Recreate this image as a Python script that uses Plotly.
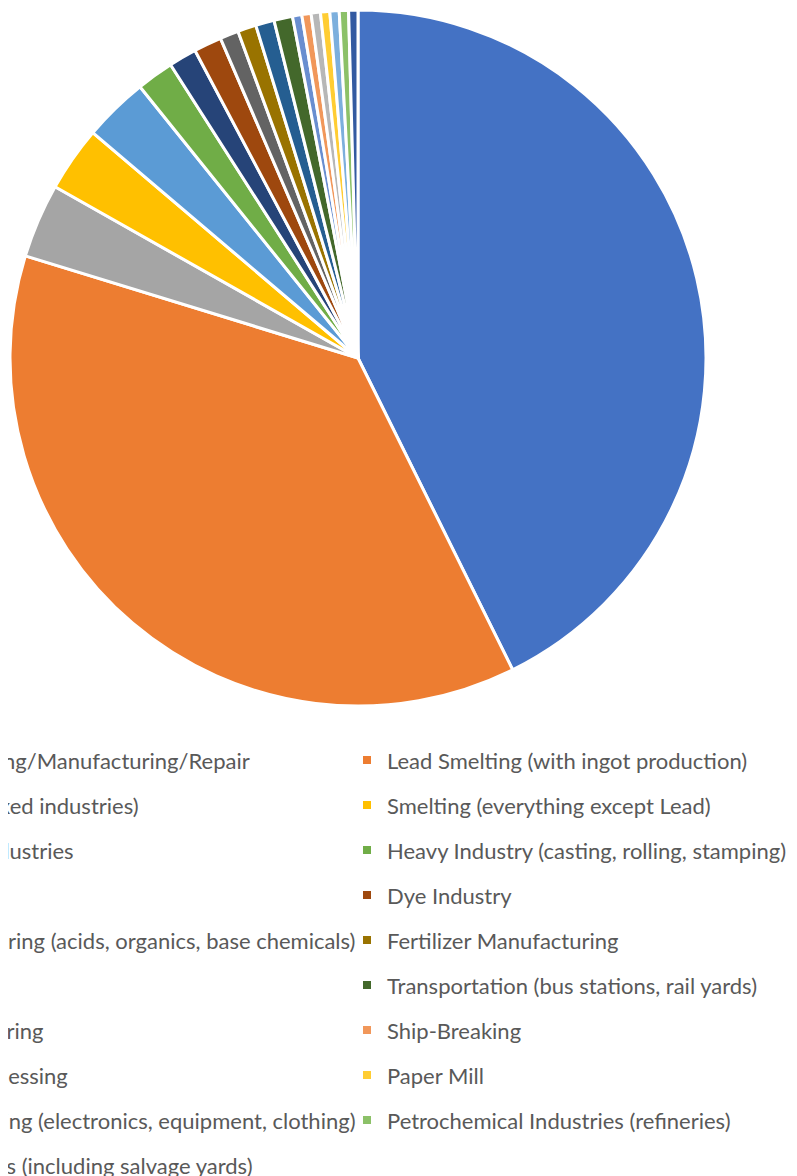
import plotly.graph_objects as go

# Data (site counts per industry)
labels = [
    "Lead Battery Recycling/Manufacturing/Repair",
    "Lead Smelting (with ingot production)",
    "Industrial Estate (mixed industries)",
    "Smelting (everything except Lead)",
    "Metal Processing Industries",
    "Heavy Industry (casting, rolling, stamping)",
    "Tanneries",
    "Dye Industry",
    "Chemical Manufacturing (acids, organics, base chemicals)",
    "Fertilizer Manufacturing",
    "Ceramics",
    "Transportation (bus stations, rail yards)",
    "Pesticide Manufacturing",
    "Ship-Breaking",
    "Mining and Ore Processing",
    "Paper Mill",
    "Product Manufacturing (electronics, equipment, clothing)",
    "Petrochemical Industries (refineries)",
    "Waste Dumping Sites (including salvage yards)",
]
values = [99, 86, 8, 7, 7, 4, 3, 3, 2, 2, 2, 2, 1, 1, 1, 1, 1, 1, 1]
colors = [
    "#4472C4", "#ED7D31", "#A5A5A5", "#FFC000", "#5B9BD5", "#70AD47",
    "#264478", "#9E480E", "#636363", "#997300", "#255E91", "#43682B",
    "#698ED0", "#F1975A", "#B7B7B7", "#FFCD33", "#7CAFDD", "#8CC168",
    "#335AA1",
]

W, H = 797, 1176
cx, cy, r = 350, 350, 348

fig = go.Figure()
fig.add_trace(go.Pie(
    labels=labels, values=values, sort=False, direction="clockwise", rotation=0,
    marker=dict(colors=colors, line=dict(color="white", width=3)),
    textinfo="none", hoverinfo="label+value+percent", showlegend=False,
    domain=dict(x=[(cx - r) / W, (cx + r) / W], y=[1 - (cy + r) / H, 1 - (cy - r) / H]),
))

# Legend entries in two columns (Excel-style layout), one per slice
for i, (lab, col) in enumerate(zip(labels, colors)):
    fig.add_trace(go.Scatter(
        x=[None], y=[None], mode="markers", name=lab,
        marker=dict(symbol="square", size=8, color=col),
        legendgroup=f"g{i}", legend="legend" if i % 2 == 0 else "legend2",
        hoverinfo="skip",
    ))

font = dict(family="Lato, 'Open Sans', sans-serif", size=22, color="#595959")
legend_common = dict(
    orientation="v", xanchor="left", yanchor="top", y=1 - 731.2 / H,
    font=font, tracegroupgap=13.4, bgcolor="rgba(0,0,0,0)", itemclick=False,
    itemdoubleclick=False,
)
fig.update_layout(
    width=W, height=H,
    margin=dict(l=0, r=0, t=0, b=0, autoexpand=False),
    paper_bgcolor="white", plot_bgcolor="white",
    xaxis=dict(visible=False), yaxis=dict(visible=False),
    legend=dict(x=-239 / W, **legend_common),
    legend2=dict(x=339 / W, **legend_common),
    showlegend=True,
)
fig.write_html("out.html")
